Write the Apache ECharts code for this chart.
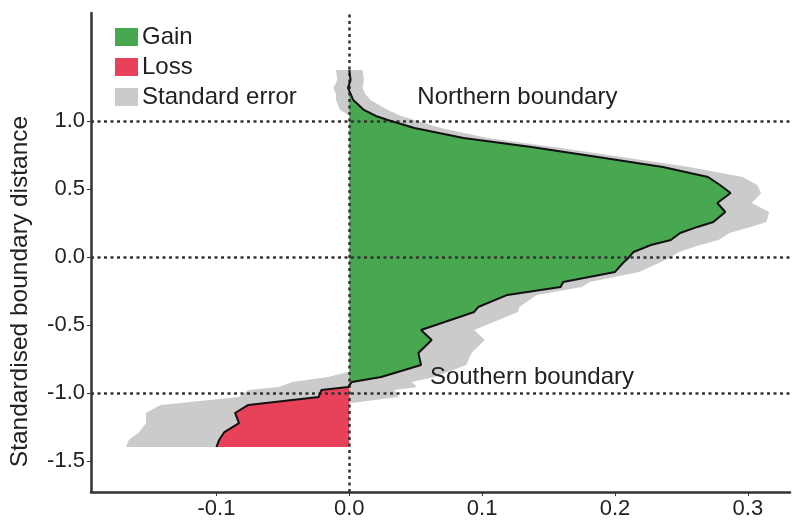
<!DOCTYPE html>
<html>
<head>
<meta charset="utf-8">
<script src="https://cdn.jsdelivr.net/npm/echarts@6/dist/echarts.min.js"></script>
<style>
  html, body { margin: 0; padding: 0; background: #fff; }
  #main { width: 798px; height: 524px; }
</style>
</head>
<body>
<div id="main"></div>
<script>
// standardised boundary distance (y) for each profile point
var distLevels = [1.375, 1.301, 1.243, 1.199, 1.154, 1.081, 1.037, 1.007, 0.949, 0.875,
  0.809, 0.735, 0.662, 0.588, 0.529, 0.471, 0.397, 0.331, 0.257, 0.221,
  0.176, 0.125, 0.088, 0.037, -0.007, -0.044, -0.110, -0.184, -0.221, -0.279,
  -0.368, -0.404, -0.537, -0.610, -0.706, -0.794, -0.882, -0.919, -0.956, -0.978,
  -1.029, -1.088, -1.147, -1.221, -1.287, -1.346, -1.397]
// mean change at each level
var meanChange = [0.000, 0.001, -0.001, 0.001, 0.003, 0.011, 0.020, 0.029, 0.049, 0.086,
  0.137, 0.187, 0.236, 0.270, 0.279, 0.287, 0.277, 0.283, 0.274, 0.262,
  0.249, 0.242, 0.227, 0.214, 0.210, 0.206, 0.200, 0.161, 0.159, 0.119,
  0.097, 0.094, 0.054, 0.062, 0.052, 0.054, 0.024, 0.002, -0.001, -0.021,
  -0.023, -0.076, -0.086, -0.083, -0.094, -0.098, -0.100]
// standard error at each level
var stdErr = [0.010, 0.010, 0.011, 0.011, 0.013, 0.018, 0.019, 0.020, 0.020, 0.018,
  0.017, 0.018, 0.020, 0.026, 0.028, 0.023, 0.026, 0.033, 0.040, 0.040,
  0.037, 0.036, 0.037, 0.034, 0.031, 0.027, 0.018, 0.020, 0.016, 0.022,
  0.031, 0.033, 0.040, 0.040, 0.040, 0.034, 0.040, 0.045, 0.052, 0.055,
  0.060, 0.066, 0.067, 0.070, 0.064, 0.068, 0.068]

var xTicks = [-0.1, 0.0, 0.1, 0.2, 0.3]
var yTicks = [-1.5, -1.0, -0.5, 0.0, 0.5, 1.0]

var FONT = "'Liberation Sans', Arial, Helvetica, sans-serif"
var n = distLevels.length
var yTop = distLevels[0], yBot = distLevels[n - 1]

function polyItem(pts, color) {
    return function (params, api) {
        var p = pts.map(function (d) { return api.coord(d) })
        return { type: 'polygon', shape: { points: p }, style: { fill: color } }
    }
}

var gainPts = distLevels.map(function (y, i) { return [Math.max(meanChange[i], 0), y] })
gainPts.push([0, yBot], [0, yTop])
var lossPts = distLevels.map(function (y, i) { return [Math.min(meanChange[i], 0), y] })
lossPts.push([0, yBot], [0, yTop])
var bandPts = []
distLevels.forEach(function (y, i) { bandPts.push([meanChange[i] + stdErr[i], y]) })
for (var i = n - 1; i >= 0; i--) bandPts.push([meanChange[i] - stdErr[i], distLevels[i]])

var dotted = { type: [3, 3.5], color: '#333', width: 2.5 }

myChart = echarts.init(document.getElementById('main'))
myChart.setOption({
    backgroundColor: '#fff',
    animation: false,
    textStyle: { fontFamily: FONT },
    grid: { left: 89, right: 8, top: 13, bottom: 32 },
    legend: {
        orient: 'vertical', left: 110, top: 20,
        itemWidth: 23, itemHeight: 18, itemGap: 6,
        icon: 'rect',
        data: ['Gain', 'Loss', 'Standard error'],
        textStyle: { fontSize: 24, color: '#222', fontFamily: FONT, padding: [0, 0, 0, -1] }
    },
    xAxis: {
        type: 'value', min: -0.1944, max: 0.3317,
        splitLine: { show: false },
        axisLine: { onZero: false, lineStyle: { color: '#333', width: 2.5 } },
        axisTick: { length: 4, customValues: xTicks, lineStyle: { color: '#333' } },
        axisLabel: { customValues: xTicks, fontSize: 22, color: '#222', margin: 6,
            formatter: function (v) { return v.toFixed(1) } }
    },
    yAxis: {
        type: 'value', min: -1.728, max: 1.794,
        name: 'Standardised boundary distance', nameLocation: 'middle', nameGap: 58,
        nameTextStyle: { fontSize: 24.5, color: '#222', padding: [0, 78, 0, 0] },
        splitLine: { show: false },
        axisLine: { onZero: false, lineStyle: { color: '#333', width: 2.5 } },
        axisTick: { length: 4, customValues: yTicks, lineStyle: { color: '#333' } },
        axisLabel: { customValues: yTicks, fontSize: 22, color: '#222', margin: 6,
            formatter: function (v) { return v.toFixed(1) } }
    },
    series: [
        { name: 'Standard error', type: 'custom', z: 1, data: [[0, 0]],
          itemStyle: { color: '#cbcbcb' }, renderItem: polyItem(bandPts, '#cbcbcb') },
        { name: 'Gain', type: 'custom', z: 2, data: [[0, 0]],
          itemStyle: { color: '#48a84f' }, renderItem: polyItem(gainPts, '#48a84f') },
        { name: 'Loss', type: 'custom', z: 2, data: [[0, 0]],
          itemStyle: { color: '#e8415a' }, renderItem: polyItem(lossPts, '#e8415a') },
        {
            name: 'mean', type: 'line', z: 4, showSymbol: false,
            data: distLevels.map(function (y, i) { return [meanChange[i], y] }),
            lineStyle: { color: '#111', width: 2 },
            markLine: {
                silent: true, symbol: 'none', z: 3,
                label: { show: false },
                lineStyle: dotted,
                data: [{ yAxis: 1 }, { yAxis: 0 }, { yAxis: -1 }, { xAxis: 0 }]
            },
            markPoint: {
                symbol: 'rect', symbolSize: 1, itemStyle: { color: 'rgba(0,0,0,0)' },
                label: { show: true, position: 'inside', fontSize: 24, color: '#222',
                    formatter: function (p) { return p.name } },
                data: [
                    { name: 'Northern boundary', coord: [0.1265, 1.17] },
                    { name: 'Southern boundary', coord: [0.1375, -0.885] }
                ]
            }
        }
    ]
})
</script>
</body>
</html>
